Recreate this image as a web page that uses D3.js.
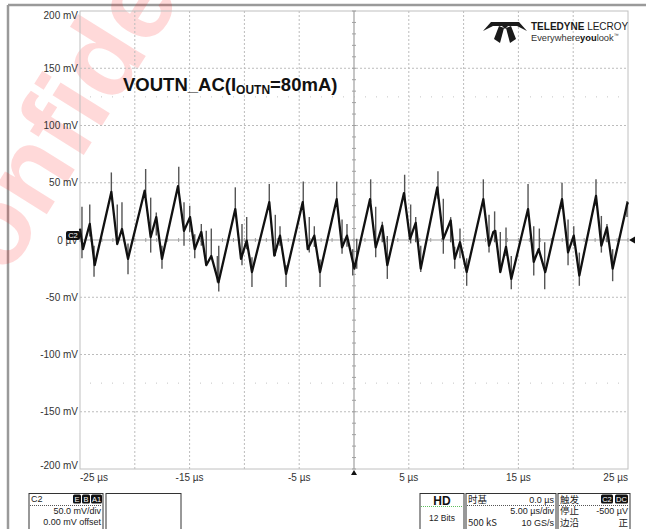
<!DOCTYPE html>
<html>
<head>
<meta charset="utf-8">
<script src="https://cdn.jsdelivr.net/npm/d3@7"></script>
<style>
  body { margin: 0; background: #fff; }
  svg { display: block; font-family: "Liberation Sans", Arial, sans-serif; }
</style>
</head>
<body>
<svg id="scope_svg" width="650" height="529"></svg>
<script>
// axis ticks
const timeTicks = [-25, -15, -5, 5, 15, 25];
const timeTickLabels = ["-25 µs", "-15 µs", "-5 µs", "5 µs", "15 µs", "25 µs"];
const voltTicks = [200, 150, 100, 50, 0, -50, -100, -150, -200];
const voltTickLabels = ["200 mV", "150 mV", "100 mV", "50 mV", "0 µV", "-50 mV", "-100 mV", "-150 mV", "-200 mV"];

// main trace vertices (µs, mV)
const traceTime = [-25, -24.73, -24.11, -23.66, -22.14, -21.6, -21.17, -20.62, -19.1, -18.55, -18.04, -17.52,
    -16.06, -15.51, -14.96, -14.53, -13.93, -13.48, -13.02, -12.36, -10.83, -10.31, -9.79, -9.31,
    -7.73, -7.27, -6.75, -6.2, -4.68, -4.22, -3.62, -3.1, -1.58, -1.09, -0.64, 0.03,
    1.46, 1.98, 2.58, 3.04, 4.56, 5.11, 5.63, 6.09, 7.6, 8.15, 8.82, 9.19, 9.67, 10.28,
    11.8, 12.32, 12.71, 12.89, 13.35, 13.87, 14.35, 15.88, 16.4, 16.85, 17.45, 18.98,
    19.53, 20.05, 20.56, 22.08, 22.57, 23.08, 23.6, 24.91, 25];
const traceMv = [10, -8, 14, -22, 42, -3.5, 9.6, -16.5, 43, 2.6, 20, -16.5,
    47, 8, 20, -8, 7, -22, -14, -37, 27, -16.5, -0.5, -28,
    33, -13.6, 3.8, -29.6, 33, -8, 3.8, -28, 35.6, -6.4, 3.8, -25,
    35.6, -6.4, 12.5, -22, 41, 1, 15, -25, 46, 1, 17, -16.5, -2, -28,
    35.6, -5, 7, 8, -28, -6, -34, 27, -19, -8, -28, 35.6,
    -10.7, 3.8, -31, 38.5, -5, 11, -25, 31, 33];

// glitch spikes (µs, top mV, bottom mV)
const spikeTime = [-24.82, -24.11, -23.72, -22.14, -21.6, -21.17, -20.62, -19.01, -18.55, -18.04, -17.52,
    -15.99, -15.51, -14.99, -14.53, -13.93, -13.48, -13.02, -12.47, -12.34, -10.83, -10.22, -9.79, -9.31,
    -7.73, -7.18, -6.75, -6.2, -4.63, -4.08, -3.62, -3.1, -1.58, -1.09, -0.64, -0.12, 0.25,
    1.52, 1.98, 2.58, 3.04, 4.62, 5.17, 5.63, 6.09, 7.66, 8.15, 8.82, 9.19, 9.67, 10.28,
    11.8, 12.32, 12.83, 13.35, 13.87, 14.35, 15.88, 16.4, 16.91, 17.4, 18.98, 19.53, 20.05, 20.56,
    22.08, 22.57, 23.08, 23.6, 24.91];
const spikeHigh = [29, 31, -5, 59, 31, 33, -3, 62, 37, 24, -5,
    64, 33, 30, 5, 14, 8, 10, -14, -5, 46, 14, 20, -15,
    49, 22, 12, -22, 51, 20, 12, -17, 51, 18, 14, -8, 1,
    53, 29, 16, 3.5, 57, 31, 20, -5, 60, 36, 20, -6, 10, -16,
    53, 22, 25, 7, 11, -14, 49, 12, 10, -2, 50, 18, 12, -11,
    53, 21, 14, -8, 34];
const spikeLow = [-16, 3, -32, 38, -3, 10, -30, 38, -11, 4, -25,
    42, -5, 7, -16, -5, -22, -16, -37, -45, 21, -22, -8, -41,
    27, -14, -5, -41, 27, -11, -6, -41, 30, -12, -6, -31, -25,
    33, -15, -2, -34, 33, -3, -2, -28, 36, -12, -2, -25, -16, -40,
    30, -11, -2, -28, -14, -43, 25, -31, -11, -43, 27, -22, -5, -40,
    30, -11, -2, -36, 20];

// readout panels
const channelRows = ["50.0 mV/div", "0.00 mV offset"];
const timebaseRows = [["时基", "0.0 µs"], ["", "5.00 µs/div"], ["500 kS", "10 GS/s"]];
const triggerRows = [["触发", ""], ["停止", "-500 µV"], ["边沿", "正"]];

function drawScope() {
    var svg = d3.select("#scope_svg");
    var plot = { left: 80, right: 628, top: 11, bottom: 469 };

    var x = d3.scaleLinear().domain([-25, 25]).range([plot.left, plot.right]);
    var y = d3.scaleLinear().domain([-200, 200]).range([plot.bottom, plot.top]);

    // screenshot frame
    svg.append("line").attr("x1", 8).attr("x2", 646).attr("y1", 5).attr("y2", 5)
        .attr("stroke", "#9a9a9a").attr("stroke-width", 2.5);
    svg.append("line").attr("x1", 8).attr("x2", 8).attr("y1", 5).attr("y2", 529)
        .attr("stroke", "#9a9a9a").attr("stroke-width", 2.5);

    // watermark
    svg.append("text")
        .attr("transform", "translate(-35,345) rotate(-58)")
        .attr("font-size", 110)
        .attr("font-weight", "bold")
        .attr("fill", "#ff2020")
        .attr("fill-opacity", 0.17)
        .text("Confidential");

    // grid
    var grid = svg.append("g");
    grid.selectAll(".vgrid")
        .data(d3.range(-20, 25, 5).filter(d => d != 0))
        .enter().append("line")
        .attr("x1", d => x(d)).attr("x2", d => x(d))
        .attr("y1", plot.top).attr("y2", plot.bottom)
        .attr("stroke", "#bcbcbc").attr("stroke-dasharray", "2,2");
    grid.selectAll(".hgrid")
        .data(voltTicks.filter(d => d != 0 && Math.abs(d) != 200))
        .enter().append("line")
        .attr("x1", plot.left).attr("x2", plot.right)
        .attr("y1", d => y(d)).attr("y2", d => y(d))
        .attr("stroke", "#bcbcbc").attr("stroke-dasharray", "2,2");

    // faint dotted rows at +-125 mV
    [125, -125].forEach(v => {
        grid.append("line")
            .attr("x1", plot.left + 10).attr("x2", plot.right)
            .attr("y1", y(v)).attr("y2", y(v))
            .attr("stroke", "#c4c4c4").attr("stroke-dasharray", "1,10");
    });

    grid.append("rect")
        .attr("x", plot.left).attr("y", plot.top)
        .attr("width", plot.right - plot.left).attr("height", plot.bottom - plot.top)
        .attr("fill", "none").attr("stroke", "#c0c0c0");

    // centre axes with minor ticks
    grid.append("line").attr("x1", plot.left).attr("x2", plot.right)
        .attr("y1", y(0)).attr("y2", y(0)).attr("stroke", "#a0a0a0").attr("stroke-width", 1.2);
    grid.append("line").attr("x1", x(0)).attr("x2", x(0))
        .attr("y1", plot.top).attr("y2", plot.bottom).attr("stroke", "#a0a0a0").attr("stroke-width", 1.2);
    grid.selectAll(".xminor")
        .data(d3.range(-25, 25.01, 1))
        .enter().append("line")
        .attr("x1", d => x(d)).attr("x2", d => x(d))
        .attr("y1", y(0) - 2).attr("y2", y(0) + 2)
        .attr("stroke", "#a0a0a0");
    grid.selectAll(".yminor")
        .data(d3.range(-200, 200.01, 10))
        .enter().append("line")
        .attr("x1", x(0) - 2).attr("x2", x(0) + 2)
        .attr("y1", d => y(d)).attr("y2", d => y(d))
        .attr("stroke", "#a0a0a0");

    // axis labels
    svg.append("g").selectAll("text")
        .data(voltTicks)
        .enter().append("text")
        .attr("x", 78)
        .attr("y", d => Math.min(Math.max(y(d), 15), 465))
        .attr("dy", "0.35em")
        .attr("text-anchor", "end")
        .attr("font-size", 10)
        .attr("fill", "#333")
        .text((d, i) => voltTickLabels[i]);

    svg.append("g").selectAll("text")
        .data(timeTicks)
        .enter().append("text")
        .attr("x", d => x(d))
        .attr("y", 480.5)
        .attr("text-anchor", (d, i) => i == 0 ? "start" : (i == timeTicks.length - 1 ? "end" : "middle"))
        .attr("font-size", 10)
        .attr("fill", "#333")
        .text((d, i) => timeTickLabels[i]);

    // title
    var title = svg.append("text")
        .attr("x", 123).attr("y", 91)
        .attr("font-size", 18.5).attr("font-weight", "bold").attr("fill", "#111");
    title.append("tspan").text("VOUTN_AC(I");
    title.append("tspan").attr("font-size", 12).attr("dy", 3).text("OUTN");
    title.append("tspan").attr("dy", -3).text("=80mA)");

    // spikes, then main trace
    var spikes = spikeTime.map((t, i) => ({ t: t, hi: spikeHigh[i], lo: spikeLow[i] }));
    svg.append("g").selectAll("line")
        .data(spikes)
        .enter().append("line")
        .attr("x1", d => x(d.t)).attr("x2", d => x(d.t))
        .attr("y1", d => y(d.hi)).attr("y2", d => y(d.lo))
        .attr("stroke", "#555").attr("stroke-width", 1.4);

    var trace = traceTime.map((t, i) => ({ t: t, v: traceMv[i] }));
    var line = d3.line().x(d => x(d.t)).y(d => y(d.v));
    svg.append("path")
        .datum(trace)
        .attr("fill", "none")
        .attr("stroke", "#111")
        .attr("stroke-width", 2.3)
        .attr("stroke-linejoin", "round")
        .attr("d", line);

    // channel marker, trigger markers
    svg.append("rect").attr("x", 66).attr("y", y(0) - 9).attr("width", 14).attr("height", 9)
        .attr("rx", 2).attr("fill", "#111");
    svg.append("text").attr("x", 73).attr("y", y(0) - 1.8).attr("text-anchor", "middle")
        .attr("font-size", 7.5).attr("fill", "#fff").text("C2");
    svg.append("path")
        .attr("d", d3.line()([[plot.right + 1, y(0)], [plot.right + 7, y(0) - 3.5], [plot.right + 7, y(0) + 3.5]]))
        .attr("fill", "#111");
    svg.append("path")
        .attr("d", d3.line()([[x(0), plot.bottom + 1], [x(0) - 3, plot.bottom + 6], [x(0) + 3, plot.bottom + 6]]))
        .attr("fill", "#111");

    drawLogo(svg);
    drawPanels(svg);
}

function drawLogo(svg) {
    var logo = svg.append("g").attr("fill", "#1a1a1a");
    logo.append("path").attr("d", "M483,31 L491,22 L503,22 L503,26 L493,26 Z");
    logo.append("path").attr("d", "M527,31 L519,22 L507,22 L507,26 L517,26 Z");
    logo.append("path").attr("d", "M502,22 L508,22 L508,26 L505,29 L502,26 Z");
    logo.append("path").attr("d", "M499,26 L504,28 L500,43 L494,39 Z");
    logo.append("path").attr("d", "M511,26 L506,28 L510,43 L516,39 Z");
    logo.append("text").attr("x", 531).attr("y", 30).attr("font-size", 10)
        .attr("font-weight", "bold").attr("fill", "#1a1a1a")
        .text("TELEDYNE ").append("tspan").attr("font-weight", "normal").text("LECROY");
    var tag = logo.append("text").attr("x", 531).attr("y", 41).attr("font-size", 9.3).attr("fill", "#333");
    tag.append("tspan").text("Everywhere");
    tag.append("tspan").attr("font-weight", "bold").attr("fill", "#111").text("you");
    tag.append("tspan").text("look");
    tag.append("tspan").attr("font-size", 5).attr("dy", -4).text("™");
}

function badge(g, bx, by, w, label) {
    g.append("rect").attr("x", bx).attr("y", by).attr("width", w).attr("height", 9)
        .attr("rx", 1.5).attr("fill", "#111");
    g.append("text").attr("x", bx + w / 2).attr("y", by + 7.3).attr("text-anchor", "middle")
        .attr("font-size", 7.5).attr("fill", "#fff").text(label);
}

function drawPanels(svg) {
    var g = svg.append("g").attr("font-size", 9).attr("fill", "#222");
    var boxes = [[29, 103], [106, 181], [420, 464], [466, 556], [558, 630]];
    boxes.forEach(b => {
        g.append("rect").attr("x", b[0]).attr("y", 493.5).attr("width", b[1] - b[0]).attr("height", 45)
            .attr("fill", "#fff").attr("stroke", "#333").attr("stroke-width", 1);
    });

    // channel box
    g.append("text").attr("x", 31).attr("y", 502).text("C2");
    badge(g, 73, 494.5, 8, "E");
    badge(g, 82, 494.5, 8, "B");
    badge(g, 91, 494.5, 11, "A1");
    g.append("line").attr("x1", 30).attr("x2", 102).attr("y1", 505.5).attr("y2", 505.5)
        .attr("stroke", "#555").attr("stroke-dasharray", "1,1");
    channelRows.forEach((r, i) => {
        g.append("text").attr("x", 101).attr("y", 514 + i * 10.5).attr("text-anchor", "end").text(r);
    });

    // HD box
    g.append("text").attr("x", 442).attr("y", 505).attr("text-anchor", "middle")
        .attr("font-size", 12).attr("font-weight", "bold").attr("fill", "#111").text("HD");
    g.append("line").attr("x1", 421).attr("x2", 463).attr("y1", 506.5).attr("y2", 506.5)
        .attr("stroke", "#5fbf5f").attr("stroke-dasharray", "1,1");
    g.append("text").attr("x", 442).attr("y", 521).attr("text-anchor", "middle")
        .attr("font-size", 8.5).text("12 Bits");

    // timebase and trigger boxes
    [[466, 556, timebaseRows], [558, 630, triggerRows]].forEach(p => {
        g.append("line").attr("x1", p[0] + 1).attr("x2", p[1] - 1).attr("y1", 505.5).attr("y2", 505.5)
            .attr("stroke", "#555").attr("stroke-dasharray", "1,1");
        p[2].forEach((r, i) => {
            var yy = 502.5 + i * 11.5;
            g.append("text").attr("x", p[0] + 2).attr("y", yy)
                .attr("font-family", "'Noto Sans CJK SC', 'Liberation Sans', sans-serif")
                .attr("font-size", 9.5).text(r[0]);
            g.append("text").attr("x", p[1] - 2).attr("y", yy).attr("text-anchor", "end")
                .attr("font-family", r[1] == "正" ? "'Noto Sans CJK SC', sans-serif" : null)
                .attr("font-size", r[1] == "正" ? 9.5 : 9).text(r[1]);
        });
    });
    badge(g, 601, 494.5, 12, "C2");
    badge(g, 615, 494.5, 13, "DC");
}

drawScope();
</script>
</body>
</html>
